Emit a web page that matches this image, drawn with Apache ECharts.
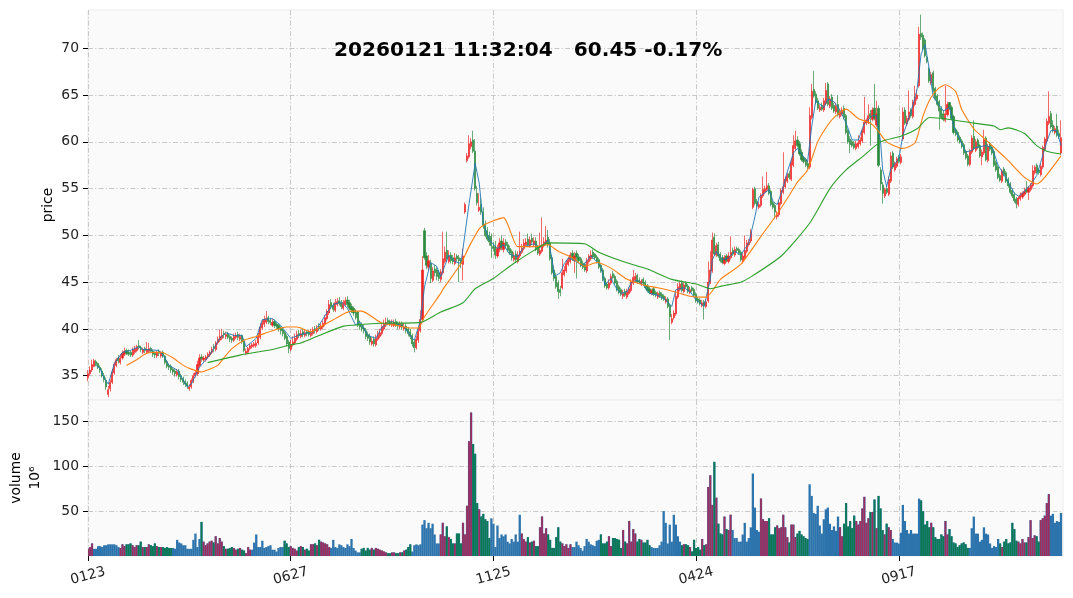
<!DOCTYPE html>
<html><head><meta charset="utf-8">
<style>html,body{margin:0;padding:0;background:#fff}#c{width:1073px;height:598px}</style>
<script src="https://cdn.jsdelivr.net/npm/echarts@6/dist/echarts.min.js"></script>
</head><body><div id="c"></div>
<script>
const titleText = '20260121 11:32:04   60.45 -0.17%';
const tickIndexes = [0,100,200,300,400];
const tickLabels = ['0123','0627','1125','0424','0917'];
const priceTicks = [35,40,45,50,55,60,65,70];
const volumeTicks = [50,100,150];
const closes = [
35.2,35.6,36.2,36.6,36.2,35.9,35.6,35.0,34.6,33.8,
33.5,34.3,35.4,36.2,36.7,36.6,36.9,37.4,37.6,37.4,
37.3,37.2,37.8,37.9,38.1,38.0,37.8,37.8,37.7,37.8,
37.9,37.6,37.3,37.2,37.5,37.4,37.4,37.1,36.4,36.0,
35.9,35.6,35.4,35.2,35.4,34.9,34.6,34.3,34.1,33.9,
33.8,34.5,35.0,35.3,36.2,36.9,36.8,36.9,37.0,37.3,
37.5,37.8,37.9,38.5,38.9,39.2,39.3,39.4,39.4,39.1,
38.9,38.8,39.2,39.3,39.1,39.2,38.6,37.7,37.6,37.9,
38.2,38.3,38.4,38.5,39.2,40.2,40.6,41.0,41.1,40.8,
40.7,40.7,40.4,40.3,40.0,39.8,39.5,39.0,38.4,37.9,
38.3,38.6,39.0,39.4,39.3,39.5,39.4,39.6,39.5,39.4,
39.6,39.9,39.8,40.0,40.0,40.3,40.6,41.2,41.9,42.6,
42.4,42.1,42.8,42.9,42.7,42.4,42.8,43.0,42.6,42.2,
42.0,41.7,41.2,40.4,40.2,40.0,39.8,39.2,39.0,38.6,
38.7,38.4,39.0,39.4,39.6,40.2,40.5,40.7,40.7,40.6,
40.6,40.7,40.4,40.3,40.5,40.2,40.2,39.8,39.5,39.2,
38.4,38.0,38.9,39.8,41.0,46.3,47.6,46.8,47.3,45.4,
46.2,46.0,45.6,45.4,46.1,47.5,48.2,47.5,47.8,47.3,
47.2,47.6,47.5,47.3,47.0,47.8,53.3,58.5,59.8,60.0,
59.0,55.0,53.5,53.0,52.5,51.0,50.0,49.6,49.3,48.9,
48.6,47.9,48.6,49.2,48.7,49.2,48.9,48.4,48.1,47.6,
47.8,47.4,47.9,48.3,48.6,49.2,49.3,49.0,49.5,49.3,
49.4,48.5,48.1,48.4,49.0,49.3,49.5,49.0,47.5,46.0,
45.4,44.5,44.0,43.9,46.0,46.3,47.0,47.4,47.9,47.5,
47.8,47.7,47.3,46.8,46.6,46.3,47.3,47.8,47.9,47.7,
47.6,47.2,46.6,46.2,45.3,44.6,44.4,44.9,45.6,45.5,
44.9,44.2,43.9,43.7,43.8,43.6,44.0,44.3,45.0,45.5,
45.6,45.0,45.0,45.1,44.9,44.4,44.1,43.9,44.1,43.7,
43.6,43.8,43.5,43.3,43.2,43.2,42.4,41.3,41.1,41.7,
43.5,44.5,44.8,44.1,44.7,44.5,44.0,44.2,44.1,43.6,
43.0,42.9,42.7,42.8,42.5,42.9,45.0,46.3,49.5,48.0,
48.9,47.8,47.3,47.1,47.6,47.3,47.8,48.2,48.0,48.5,
48.4,48.1,47.4,47.8,48.4,49.2,49.3,50.4,54.9,53.4,
53.2,53.3,54.3,54.9,55.0,55.3,54.5,53.3,53.0,52.5,
52.2,53.5,54.8,55.2,56.0,56.4,56.2,57.8,59.6,60.1,
59.6,58.7,58.1,57.9,57.5,57.3,62.8,65.4,64.9,64.2,
63.6,63.7,63.5,64.4,65.5,64.0,64.6,63.6,63.3,63.8,
62.9,63.2,63.4,62.6,61.0,60.0,59.7,59.6,59.4,59.8,
59.9,60.2,61.2,62.1,62.3,62.8,62.6,63.4,62.5,63.0,
57.5,55.5,54.5,54.9,54.6,56.0,58.5,57.3,57.7,58.2,
57.9,58.4,63.2,62.0,62.5,63.2,62.8,64.2,64.8,65.0,
71.5,71.2,70.0,69.2,68.6,66.5,67.2,65.5,64.6,64.0,
63.3,62.6,62.4,63.0,64.0,63.6,62.5,61.0,60.8,60.2,
60.0,59.5,58.8,58.3,57.6,59.0,60.4,59.3,60.0,59.4,
58.5,58.9,60.2,58.1,59.5,59.2,58.8,57.5,57.0,56.2,
55.9,56.9,56.5,55.8,55.3,54.6,54.2,53.7,53.4,54.0,
54.3,54.5,54.7,54.7,55.1,55.4,56.9,57.3,56.8,56.7,
57.4,59.4,60.3,62.2,62.7,61.6,61.2,61.4,60.7,60.55,
60.45];
const opens = [
34.8,35.2,35.6,36.0,36.5,36.3,35.9,35.5,35.0,34.5,
33.0,33.6,34.3,35.3,36.1,36.9,36.4,36.9,37.3,37.7,
37.5,37.5,37.2,37.5,37.7,38.2,38.0,37.5,37.9,37.5,
37.6,37.9,37.6,37.5,37.1,37.6,37.1,37.5,37.1,36.5,
36.1,36.0,35.7,35.5,35.1,35.5,35.0,34.7,34.4,34.2,
33.6,33.8,34.4,35.0,35.2,36.1,37.0,36.7,36.7,37.0,
37.2,37.5,38.1,37.8,38.5,38.8,39.0,39.5,39.2,39.5,
39.2,39.0,38.8,39.1,39.4,38.9,39.3,38.7,37.4,37.5,
37.9,38.1,38.2,38.2,38.5,39.1,40.1,40.5,40.7,41.2,
40.9,40.4,40.8,40.5,40.4,40.1,39.9,39.6,39.2,38.6,
37.8,38.3,38.5,38.9,39.5,39.2,39.7,39.3,39.7,39.6,
39.3,39.5,40.0,39.7,40.3,40.0,40.2,40.5,41.1,41.7,
42.8,42.5,42.0,42.6,43.0,42.8,42.2,42.6,43.1,42.8,
42.4,42.2,41.8,41.8,40.5,40.4,40.1,39.8,39.4,39.2,
38.4,38.9,38.3,38.9,39.2,39.5,40.0,40.4,40.9,40.8,
40.4,40.4,40.8,40.6,40.2,40.6,40.0,40.3,40.0,39.7,
39.3,38.6,38.0,38.8,39.8,41.0,50.5,47.8,46.6,47.0,
45.2,46.4,46.3,46.0,45.3,46.0,47.2,48.4,47.2,47.9,
47.6,47.0,47.8,47.6,47.4,46.9,52.5,58.0,58.4,59.5,
60.2,59.0,54.5,52.7,53.3,52.5,51.2,50.5,50.0,49.9,
48.8,48.8,47.8,48.5,49.4,48.5,49.3,49.0,48.6,48.3,
47.4,48.0,47.2,47.8,48.2,48.6,49.0,49.6,48.9,49.7,
49.0,49.4,48.7,48.0,48.3,48.9,49.1,49.8,49.2,47.6,
46.3,45.6,44.9,44.2,44.4,45.8,46.2,46.9,47.2,48.1,
47.3,48.1,47.7,47.5,47.0,46.9,46.2,47.2,47.5,48.2,
48.0,47.7,47.4,46.8,46.3,45.4,44.8,44.4,44.9,45.9,
45.6,45.1,44.5,44.2,43.5,44.0,43.4,43.8,44.1,44.9,
45.2,45.7,45.2,44.8,45.3,45.0,44.6,44.3,43.8,44.3,
43.9,43.4,43.9,43.7,43.5,42.9,43.2,42.5,40.7,41.2,
41.6,43.4,44.2,44.9,44.0,44.9,44.6,43.9,44.4,44.2,
43.7,43.2,43.1,42.5,42.9,42.4,43.0,45.0,46.2,49.8,
47.9,49.0,48.0,47.6,47.0,47.8,47.2,47.6,48.4,47.9,
48.6,48.5,48.2,47.2,47.6,48.3,49.0,49.4,53.0,55.0,
53.6,53.0,53.2,54.2,54.6,54.9,55.3,54.7,53.5,53.2,
52.0,52.2,53.4,54.6,55.2,55.8,56.6,56.0,57.5,59.3,
60.2,59.8,58.9,58.3,58.1,57.7,57.3,62.6,65.6,65.1,
64.4,63.4,63.9,63.4,64.1,66.2,63.8,64.8,63.9,63.2,
64.0,62.7,63.0,63.6,62.8,61.2,60.3,60.0,59.8,59.3,
59.5,59.8,60.1,61.0,62.0,62.1,63.0,62.4,63.6,61.8,
63.6,57.0,55.4,54.2,55.0,54.4,55.8,58.8,57.0,57.4,
58.4,57.8,60.3,63.4,61.9,62.4,63.4,62.7,64.0,64.6,
66.0,71.6,71.4,70.9,69.0,67.8,66.3,67.4,65.7,64.9,
64.3,63.6,63.0,62.3,62.9,64.2,63.7,62.7,61.3,61.0,
60.5,60.1,59.7,59.0,58.5,57.6,58.9,60.6,59.1,60.2,
59.6,58.4,58.8,60.4,58.0,59.8,59.4,59.0,57.8,57.3,
56.4,55.8,57.1,56.7,56.0,55.5,54.8,54.4,53.9,53.3,
53.9,54.1,54.4,54.9,54.6,54.9,55.3,56.7,57.5,57.0,
56.5,57.3,59.2,60.1,62.0,63.0,61.8,61.0,61.7,60.9,
58.8];
const highs = [
35.6,36.0,36.7,36.8,36.7,36.4,36.1,35.8,35.3,34.8,
33.9,34.6,35.7,36.5,36.9,37.2,37.3,37.7,38.0,37.9,
37.8,37.7,38.0,38.2,38.3,38.8,38.2,38.0,38.1,38.6,
38.5,38.1,37.8,37.6,37.7,37.8,37.6,37.7,37.2,36.7,
36.3,36.2,35.8,35.7,35.7,35.7,35.2,34.9,34.6,34.4,
34.1,34.7,35.3,35.6,36.6,37.3,37.3,37.1,37.2,37.5,
37.7,38.1,38.4,38.7,39.2,39.9,40.0,39.8,39.7,39.7,
39.4,39.2,39.5,39.6,39.7,39.5,39.4,38.9,37.9,38.1,
38.4,38.5,38.6,38.8,39.6,40.6,41.0,41.4,41.9,41.4,
41.2,41.1,41.0,40.7,40.5,40.3,40.1,39.8,39.4,38.8,
38.8,39.2,39.5,39.8,39.9,39.9,40.0,40.0,39.9,39.9,
40.0,40.2,40.3,40.4,40.6,40.6,40.9,41.5,42.1,43.1,
43.2,42.8,43.2,43.3,43.4,43.1,43.1,43.4,43.5,43.1,
42.7,42.4,42.1,41.9,40.9,40.7,40.4,40.1,39.7,39.5,
39.1,39.2,39.4,39.8,40.0,40.5,41.0,41.2,41.2,41.0,
41.0,41.0,41.1,40.8,40.8,40.8,40.6,40.6,40.2,40.0,
39.5,38.9,39.3,40.2,42.0,47.8,50.8,48.2,47.9,47.4,
46.6,46.8,46.6,46.3,46.4,50.4,48.8,50.4,48.4,48.2,
47.9,48.1,48.0,47.9,47.6,48.6,53.5,58.8,60.7,60.4,
61.2,60.3,55.3,54.5,54.0,53.0,51.6,50.9,50.4,50.2,
49.3,49.4,49.0,49.7,50.0,49.7,49.6,49.3,48.9,48.5,
48.2,48.4,48.3,50.4,49.1,49.6,49.7,50.2,49.9,50.2,
49.8,49.8,49.0,50.3,51.9,49.8,51.0,50.6,49.6,47.9,
46.8,46.0,45.2,44.6,47.5,46.7,47.3,47.7,48.2,48.4,
48.2,48.4,48.0,47.7,47.3,47.1,47.6,48.0,48.4,48.5,
48.1,47.9,47.6,47.0,46.5,45.6,45.0,45.3,45.9,46.2,
45.8,45.3,44.7,44.4,44.2,44.3,44.3,44.5,45.3,46.3,
46.0,45.9,45.5,45.3,45.5,45.2,44.8,44.5,44.3,44.5,
44.1,44.0,44.1,43.9,43.7,43.5,43.4,42.7,41.6,42.0,
44.0,44.9,45.1,45.2,45.0,45.1,44.8,44.5,44.6,44.4,
43.9,43.4,43.3,43.1,43.1,43.2,47.2,48.3,50.3,50.2,
49.2,49.3,48.2,47.9,47.9,48.0,48.2,49.9,48.7,48.8,
48.8,48.7,48.4,48.1,50.0,49.5,49.6,50.7,55.1,55.2,
53.9,53.6,54.5,56.3,55.3,56.8,55.6,54.9,53.7,53.4,
52.6,53.8,55.0,58.9,56.3,56.7,56.9,58.2,60.7,61.2,
60.6,60.1,59.2,58.5,58.3,58.0,63.7,66.2,67.6,65.4,
64.7,64.0,64.2,64.7,66.3,66.4,64.9,65.1,64.2,64.2,
65.0,63.5,63.7,63.9,63.0,61.4,60.6,60.2,60.1,60.1,
60.7,60.5,61.5,64.8,62.5,64.0,63.4,63.7,66.2,64.4,
63.9,57.3,55.7,55.1,55.3,56.3,58.9,59.0,57.9,58.4,
58.6,58.7,63.7,63.7,62.8,65.5,63.6,64.5,66.0,65.6,
72.3,73.6,71.7,71.1,69.2,68.0,67.5,67.6,65.9,65.1,
64.5,63.8,63.4,66.0,64.3,64.0,63.9,62.9,61.5,61.2,
60.7,60.3,59.9,59.2,58.7,59.2,60.7,62.3,60.3,60.4,
59.8,59.2,61.3,60.6,59.8,60.0,59.6,59.2,58.0,57.5,
56.6,57.1,57.3,56.9,56.2,55.7,55.0,54.6,54.1,54.2,
54.6,54.7,55.1,55.8,55.3,55.6,57.5,57.5,57.7,57.2,
57.7,59.6,60.5,62.5,65.4,63.3,62.3,61.7,63.0,61.3,
62.3];
const lows = [
34.4,35.0,35.4,35.9,36.0,35.7,35.3,34.8,34.3,33.5,
32.7,33.3,34.1,35.1,35.9,36.3,36.2,36.7,37.1,37.2,
37.1,37.0,37.0,37.3,37.5,37.8,37.5,37.3,37.4,37.3,
37.4,37.4,37.0,36.9,36.9,37.1,36.9,36.9,36.2,35.8,
35.6,35.3,35.1,34.9,34.9,34.6,34.3,34.0,33.8,33.6,
33.4,33.6,34.2,34.8,35.0,35.9,36.5,36.5,36.5,36.8,
37.0,37.3,37.5,37.6,38.3,38.6,38.8,39.0,38.9,38.9,
38.6,38.5,38.6,38.9,38.8,38.7,38.4,37.5,37.2,37.3,
37.7,37.9,38.0,38.0,38.3,38.9,39.9,40.2,40.5,40.5,
40.4,40.2,40.1,40.0,39.7,39.4,39.2,38.8,38.1,37.4,
37.6,38.1,38.3,38.7,39.0,39.0,39.1,39.1,39.2,39.2,
39.1,39.3,39.5,39.5,39.8,39.8,40.0,40.3,40.9,41.5,
42.1,41.8,41.8,42.4,42.5,42.1,42.0,42.4,42.3,42.0,
41.7,41.4,41.0,40.2,39.9,39.7,39.5,38.9,38.7,38.3,
38.2,38.1,38.1,38.7,39.0,39.3,39.8,40.2,40.4,40.3,
40.2,40.2,40.2,40.0,40.0,39.9,39.8,39.5,39.2,38.9,
38.1,37.5,37.8,38.5,39.6,40.8,47.4,46.4,46.3,44.9,
45.0,45.6,45.2,45.1,45.0,45.8,47.0,47.2,47.0,47.0,
46.9,46.8,47.2,45.0,46.5,45.2,52.3,57.8,58.2,59.2,
58.8,54.8,53.2,52.5,52.2,50.7,49.8,49.4,48.9,47.6,
48.3,47.5,47.6,48.2,48.4,48.2,48.6,48.2,47.9,47.3,
47.2,47.1,47.0,47.6,48.0,48.4,48.8,48.8,48.7,49.1,
48.8,48.3,47.9,47.8,48.1,48.7,48.9,48.7,47.3,45.8,
45.1,44.3,43.2,43.5,44.2,45.6,46.0,46.7,47.0,47.3,
46.0,45.4,47.1,46.6,46.4,46.1,46.0,47.0,47.3,47.5,
47.4,47.0,46.4,46.0,45.1,44.4,44.2,44.2,44.7,45.3,
44.7,44.0,43.7,43.5,43.2,43.4,43.2,43.6,43.9,44.7,
45.0,44.8,44.8,44.6,44.7,44.2,43.9,43.7,43.6,43.5,
43.4,43.2,43.3,43.1,43.0,42.7,42.2,38.8,40.5,41.0,
41.4,43.2,44.0,43.9,43.8,44.3,43.8,43.7,43.9,43.4,
42.8,42.7,42.5,42.3,41.0,42.2,42.8,44.8,46.0,47.8,
47.7,47.6,47.1,46.9,46.8,47.1,47.0,47.4,47.8,47.7,
48.2,47.9,47.2,47.0,47.4,48.1,48.8,49.2,52.8,53.2,
53.0,52.8,53.0,54.0,54.4,54.7,54.3,53.1,52.8,51.8,
51.7,52.0,53.2,54.4,55.0,55.6,56.0,55.8,57.3,59.1,
59.4,58.5,57.9,57.7,57.3,57.1,57.1,62.4,64.7,64.0,
63.4,63.2,63.3,63.2,63.9,63.8,63.6,63.4,63.1,63.0,
62.7,62.5,62.8,62.4,60.8,59.8,58.8,59.4,59.2,59.1,
59.3,59.6,59.9,60.8,61.8,61.9,59.6,62.2,62.3,61.6,
57.3,54.8,53.4,54.0,54.4,54.2,55.6,57.1,56.8,57.2,
57.7,57.6,60.1,61.8,61.7,62.2,62.6,62.5,63.8,64.4,
65.8,70.9,69.8,69.0,68.4,66.3,66.1,65.3,64.4,63.8,
61.3,62.4,62.2,62.1,62.7,63.4,62.3,60.8,60.6,60.0,
59.8,59.3,58.6,58.1,57.4,57.4,58.7,59.1,58.9,59.2,
58.3,57.5,58.6,57.9,57.8,59.0,58.6,57.3,56.8,56.0,
55.7,55.6,56.3,55.6,55.1,54.4,54.0,53.5,52.9,53.1,
53.7,53.9,54.2,54.5,53.8,54.7,55.1,56.5,56.6,56.5,
56.3,57.1,59.0,59.9,61.8,61.4,61.0,60.8,60.5,60.3,
58.6];
const volumes = [
8,10,14,8,8,11,11,10,12,12,
13,13,13,13,12,10,9,13,11,13,
13,14,12,10,12,12,16,10,10,10,
13,12,11,14,11,10,10,10,9,10,
9,9,9,8,18,15,14,12,12,8,
8,8,18,25,10,19,38,16,12,14,
16,17,15,22,14,20,16,11,8,8,
9,10,9,7,8,9,7,6,3,10,
7,7,15,24,10,10,17,9,10,11,
12,7,7,5,9,10,10,17,14,10,
11,9,8,6,10,11,10,7,8,6,
13,13,14,12,18,16,15,14,13,10,
9,18,10,9,13,12,10,9,13,11,
19,9,6,4,4,8,9,6,9,7,
9,7,9,8,7,6,5,4,3,3,
4,4,3,3,4,4,6,7,10,13,
5,12,13,12,13,35,40,31,37,31,
36,24,14,14,24,37,22,33,21,19,
14,14,25,25,14,37,24,56,128,160,
125,114,59,52,44,47,41,39,20,42,
36,10,34,20,24,22,24,16,14,19,
16,24,16,46,25,19,16,21,15,16,
17,11,11,32,44,25,31,24,18,9,
9,21,32,16,14,11,13,9,13,10,
10,16,12,9,6,11,19,16,13,12,
11,17,18,24,14,14,16,22,11,20,
20,19,18,9,29,16,14,39,16,30,
25,16,19,18,15,15,18,12,10,9,
9,9,12,16,50,37,14,35,16,46,
35,22,16,12,13,13,12,10,5,18,
9,10,7,19,12,13,77,90,57,105,
65,36,25,24,44,30,29,46,29,20,
20,16,16,24,37,16,20,32,92,54,
29,27,64,41,39,39,42,24,24,32,
34,31,32,46,32,21,15,35,35,21,
25,28,24,22,20,19,80,67,48,47,
56,34,25,41,52,54,36,29,33,28,
44,32,22,36,59,33,39,31,45,39,
35,39,53,66,37,42,49,49,63,31,
67,53,29,24,36,32,29,19,15,15,
14,26,57,39,29,25,29,25,25,25,
64,62,50,35,39,32,37,32,21,19,
19,24,22,39,24,30,22,15,14,10,
12,14,15,13,9,9,31,44,25,25,
16,18,32,25,24,14,9,11,10,19,
14,10,16,19,14,15,37,30,17,16,
14,19,15,15,21,40,20,23,22,16,
40,42,45,59,69,45,47,37,39,38,
48];
const plainVolumeSpans = [[3,15],[42,55],[81,96],[120,134],[160,173],[199,213],[239,252],[278,292],[318,331],[356,370],[397,410],[435,449],[475,480]];
const ma5 = [[4,36.1],[6,35.75],[8,34.7],[10,34.1],[13,36.3],[17,37.5],[21,37.7],[25,38.1],[27,37.8],[35,37.7],[37,37.2],[40,36.1],[44,35.6],[49,33.8],[51,34.1],[55,35.9],[60,37.2],[65,39],[68,39.6],[72,39.3],[76,39.3],[78,38.1],[83,39],[86,41],[91,41.1],[95,40.4],[100,39],[105,39.4],[111,39.7],[114,40.4],[118,41.8],[121,42.6],[125,42.9],[128,42.2],[132,40.4],[134,40.8],[138,39.3],[142,39],[145,40.2],[150,40.8],[156,40.2],[160,39],[161,38.8],[164,40.9],[166,44.5],[169,47.1],[172,46.7],[174,45.6],[178,47.9],[181,47.2],[184,47],[188,53.4],[191,57.7],[193,55.6],[195,51.3],[198,49.5],[202,48.6],[205,49],[208,48],[212,47.7],[215,48.8],[220,49.1],[223,48.7],[227,49.5],[229,47.4],[230,45.6],[233,46],[235,47],[237,47.6],[241,47.2],[244,46.7],[248,47.8],[250,47.4],[253,46.7],[255,44.7],[258,45.4],[261,44.2],[263,43.8],[266,44],[268,45],[271,45.2],[274,44.7],[277,43.8],[281,43.6],[285,43.1],[288,42.4],[290,44.2],[294,44.4],[297,44],[300,43.1],[304,42.4],[305,43.4],[307,45.3],[308,47.4],[310,48.3],[313,47.4],[316,47.6],[319,48.3],[322,47.9],[326,49.2],[329,52],[331,54.1],[336,54.9],[338,53.6],[340,53.3],[343,55.2],[345,56.8],[348,58.8],[350,59.3],[353,58.4],[355,57.9],[357,61.6],[359,64.4],[363,63.7],[365,64.6],[368,64.3],[371,63.4],[374,62],[377,60.2],[380,60.2],[383,62],[387,62.8],[389,62.8],[391,60],[392,57.1],[394,55.2],[396,57.1],[400,58.2],[402,60.7],[406,63.2],[409,65.6],[411,69.4],[413,70.4],[415,67.8],[417,64.8],[420,63.9],[422,63.3],[425,63.7],[427,61.7],[430,60.3],[433,58.9],[436,59.1],[438,59.4],[443,59.6],[446,59.4],[449,57.5],[453,56.1],[457,54.5],[459,54.2],[461,54.5],[465,55.4],[468,56.4],[470,57.8],[473,60],[475,61.2],[478,61.2],[480,59.6]];
const ma20 = [[19,36.1],[24,36.7],[29,37.4],[36,37.5],[42,36.9],[47,36.1],[51,35.7],[56,35.4],[59,35.6],[64,36.1],[67,36.9],[71,37.9],[77,38.8],[83,39.2],[91,39.8],[98,40.2],[103,40.2],[110,39.7],[116,40.4],[122,41.1],[127,41.7],[130,41.9],[135,41.9],[145,40.6],[152,40.4],[159,40.1],[163,40.1],[166,41.3],[174,43.8],[175,44.2],[184,47],[188,48.8],[193,50.7],[196,51.2],[205,51.9],[212,48.8],[220,48.8],[227,49],[232,48.3],[239,47.6],[245,46.7],[251,47.1],[258,46.5],[266,45.3],[274,44.7],[281,44.4],[289,44],[297,43.5],[305,43.4],[312,45.3],[322,46.9],[332,49.9],[339,52],[346,54.3],[350,55.7],[355,57],[360,60],[365,61.8],[369,62.8],[374,63.5],[380,62.5],[386,62],[389,61.4],[394,60],[402,59.3],[408,59.9],[412,62.8],[416,64.8],[420,65.8],[423,66.1],[428,65.4],[431,63.5],[437,61.4],[444,60],[453,58.2],[462,56.2],[468,55.5],[472,56.2],[480,58.5]];
const ma60 = [[59,36.4],[75,37.2],[91,37.8],[100,38.3],[105,38.5],[114,39.3],[126,40.3],[131,40.4],[144,40.6],[164,40.7],[174,41.8],[185,42.8],[191,44.3],[200,45.4],[210,47],[220,48.4],[227,49.2],[245,49.1],[252,48.2],[264,47.2],[276,46.4],[288,45.3],[300,44.8],[307,44.3],[313,44.6],[322,45],[328,45.7],[342,47.8],[356,51.3],[366,55],[374,57],[382,58.4],[391,60],[401,60.6],[409,61.4],[415,62.6],[425,62.4],[437,62],[447,61.7],[450,61.3],[454,61.5],[462,60.9],[468,59.6],[473,59],[480,58.7]];

const C_UP='#f02626', C_DOWN='#2b8a3e', C_BLUE='#2d74ad', C_VUP='#a22c5c', C_VDOWN='#0b7a50';
const categories = closes.map((_,i)=>String(i)).concat(['481']);
const showTick = i => tickIndexes.indexOf(+i) >= 0;
const candles = closes.map((c,i)=>[opens[i],c,lows[i],highs[i]]);
const isPlain = i => plainVolumeSpans.some(s=>i>=s[0]&&i<=s[1]);
const volumeRows = volumes.map((v,i)=>[i,v]);
const colouredRows = volumes.map((v,i)=>[i,v]).filter(r=>!isPlain(r[0]));
const volumeBar=(width,colorOf)=>(params,api)=>{
  const i=api.value(0), v=api.value(1);
  const top=api.coord([i,v]), base=api.coord([i,0]);
  return {type:'rect',shape:{x:top[0]-width/2,y:top[1],width:width,height:base[1]-top[1]},style:{fill:colorOf(i)}};
};
const FONT='DejaVu Sans';
const DASH=[5,2.2,1.2,2.2];
const gridLine={show:true,lineStyle:{color:'#c8c8c8',width:1,type:DASH}};
const vSplit={show:true,interval:(i)=>showTick(i),lineStyle:{color:'#c8c8c8',width:1,type:DASH}};
const xBase={type:'category',data:categories,boundaryGap:false,axisLine:{show:false}};
const option={
 animation:false,
 backgroundColor:'#ffffff',
 title:{text:titleText,left:334,top:41,padding:0,textStyle:{fontFamily:FONT,fontWeight:'bold',fontSize:20.1,color:'#000'}},
 grid:[
  {left:88,right:10,top:10,height:390,outerBoundsMode:'none',show:true,backgroundColor:'#fafafa',borderColor:'#ececec',borderWidth:1},
  {left:88,right:10,top:400,height:156,outerBoundsMode:'none',show:true,backgroundColor:'#fafafa',borderColor:'#ececec',borderWidth:1}
 ],
 xAxis:[
  Object.assign({},xBase,{gridIndex:0,axisTick:{show:false},axisLabel:{show:false},splitLine:vSplit}),
  Object.assign({},xBase,{gridIndex:1,
    axisTick:{show:true,interval:(i)=>showTick(i),length:5,lineStyle:{color:'#000'}},
    axisLabel:{show:true,interval:(i)=>showTick(i),rotate:15,align:'center',margin:20,fontFamily:FONT,fontSize:13.9,color:'#222',
      formatter:(v)=>tickLabels[tickIndexes.indexOf(+v)]||''},
    splitLine:vSplit})
 ],
 yAxis:[
  {type:'value',gridIndex:0,min:32.4,max:74.1,
   name:'price',nameLocation:'middle',nameGap:33,nameMoveOverlap:false,nameRotate:90,nameTextStyle:{fontFamily:FONT,fontSize:13.9,color:'#000'},
   axisLine:{show:false},
   axisTick:{show:true,length:5,lineStyle:{color:'#000'},customValues:priceTicks},
   axisLabel:{fontFamily:FONT,fontSize:13.9,color:'#222',margin:9,customValues:priceTicks},
   splitLine:gridLine},
  {type:'value',gridIndex:1,min:0,max:174,
   name:'volume\n10\u2076',nameLocation:'middle',nameGap:43,nameMoveOverlap:false,nameRotate:90,nameTextStyle:{fontFamily:FONT,fontSize:13.9,color:'#000',lineHeight:19},
   axisLine:{show:false},
   axisTick:{show:true,length:5,lineStyle:{color:'#000'},customValues:volumeTicks},
   axisLabel:{fontFamily:FONT,fontSize:13.9,color:'#222',margin:9,customValues:volumeTicks},
   splitLine:gridLine}
 ],
 series:[
  {type:'candlestick',xAxisIndex:0,yAxisIndex:0,data:candles,barWidth:1.6,
   itemStyle:{color:C_UP,color0:C_DOWN,borderColor:C_UP,borderColor0:C_DOWN,borderWidth:0.7}},
  {type:'line',xAxisIndex:0,yAxisIndex:0,data:ma5,symbol:'none',lineStyle:{color:'#1f77b4',width:0.9}},
  {type:'line',xAxisIndex:0,yAxisIndex:0,data:ma20,symbol:'none',smooth:0.2,lineStyle:{color:'#ff7f0e',width:1.1}},
  {type:'line',xAxisIndex:0,yAxisIndex:0,data:ma60,symbol:'none',smooth:0.2,lineStyle:{color:'#2ca02c',width:1.1}},
  {type:'custom',xAxisIndex:1,yAxisIndex:1,data:volumeRows,clip:true,encode:{x:0,y:1},renderItem:volumeBar(2.3,()=>C_BLUE)},
  {type:'custom',xAxisIndex:1,yAxisIndex:1,data:colouredRows,clip:true,encode:{x:0,y:1},renderItem:volumeBar(1.7,i=>closes[i]>=opens[i]?C_VUP:C_VDOWN)}
 ]
};
echarts.init(document.getElementById('c'),null,{renderer:'canvas'}).setOption(option);
</script></body></html>
